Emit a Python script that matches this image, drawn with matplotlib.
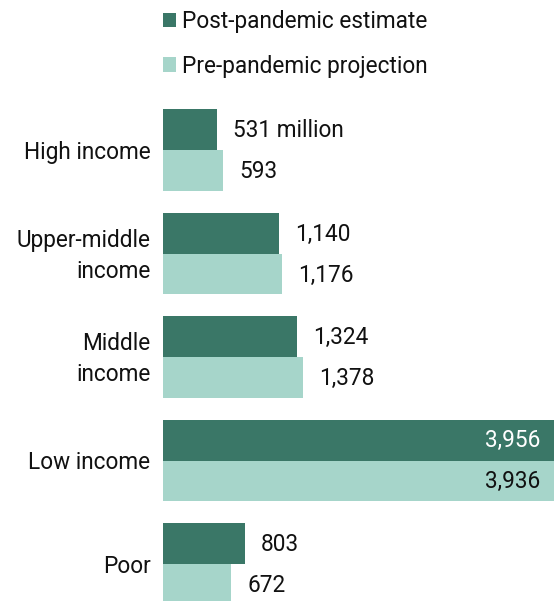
import matplotlib
matplotlib.use("Agg")
import matplotlib.pyplot as plt
import numpy as np

categories = ["High income", "Upper-middle\nincome", "Middle\nincome", "Low income", "Poor"]
post_pandemic = [531, 1140, 1324, 3956, 803]
pre_pandemic = [593, 1176, 1378, 3936, 672]
series_names = ["Post-pandemic estimate", "Pre-pandemic projection"]

DARK = "#3a7767"
LIGHT = "#a6d5ca"
FONT = "Roboto"
FS = 16.3

plt.rcParams["font.family"] = [FONT, "DejaVu Sans"]

W, H = 554, 601
fig = plt.figure(figsize=(W / 100, H / 100), dpi=100)
ax = fig.add_axes([163 / W, 0, 1 - 163 / W, 1])

y = np.arange(len(categories))
h = 0.396
b1 = ax.barh(y - h / 2, post_pandemic, height=h, color=DARK, label=series_names[0])
b2 = ax.barh(y + h / 2, pre_pandemic, height=h, color=LIGHT, label=series_names[1])

# the widest bars run past the right edge of the plot
ax.set_xlim(0, 3850)
ax.set_ylim((H - 150) / 103.5, -150 / 103.5)
xmax = ax.get_xlim()[1]

def fmt(v):
    return f"{v:,}"

for bars, vals, inside_color in ((b1, post_pandemic, "white"), (b2, pre_pandemic, "#111111")):
    for i, (rect, v) in enumerate(zip(bars, vals)):
        yc = rect.get_y() + rect.get_height() / 2
        txt = fmt(v)
        if i == 0 and bars is b1:
            txt += " million"
        if v > 0.8 * xmax:
            ax.annotate(txt, (xmax, yc), xytext=(-10, -0.5), textcoords="offset points",
                        ha="right", va="center", fontsize=FS, color=inside_color)
        else:
            ax.annotate(txt, (v, yc), xytext=(11.5, -1), textcoords="offset points",
                        ha="left", va="center", fontsize=FS, color="#111111")

for yi, cat in zip(y, categories):
    ax.annotate(cat, (0, yi), xytext=(-9, -1.5), textcoords="offset points",
                ha="right", va="center", fontsize=FS, color="#111111",
                linespacing=1.45, annotation_clip=False)

ax.axis("off")

leg = ax.legend(handles=[b1, b2], loc="upper left",
                bbox_to_anchor=(163 / W, 1 - 10 / H), bbox_transform=fig.transFigure,
                frameon=False, fontsize=FS, handlelength=0.58, handleheight=0.58,
                handletextpad=0.25, labelspacing=0.95, borderaxespad=0, borderpad=0)
for t in leg.get_texts():
    t.set_color("#111111")

fig.savefig("out.png", dpi=100)
